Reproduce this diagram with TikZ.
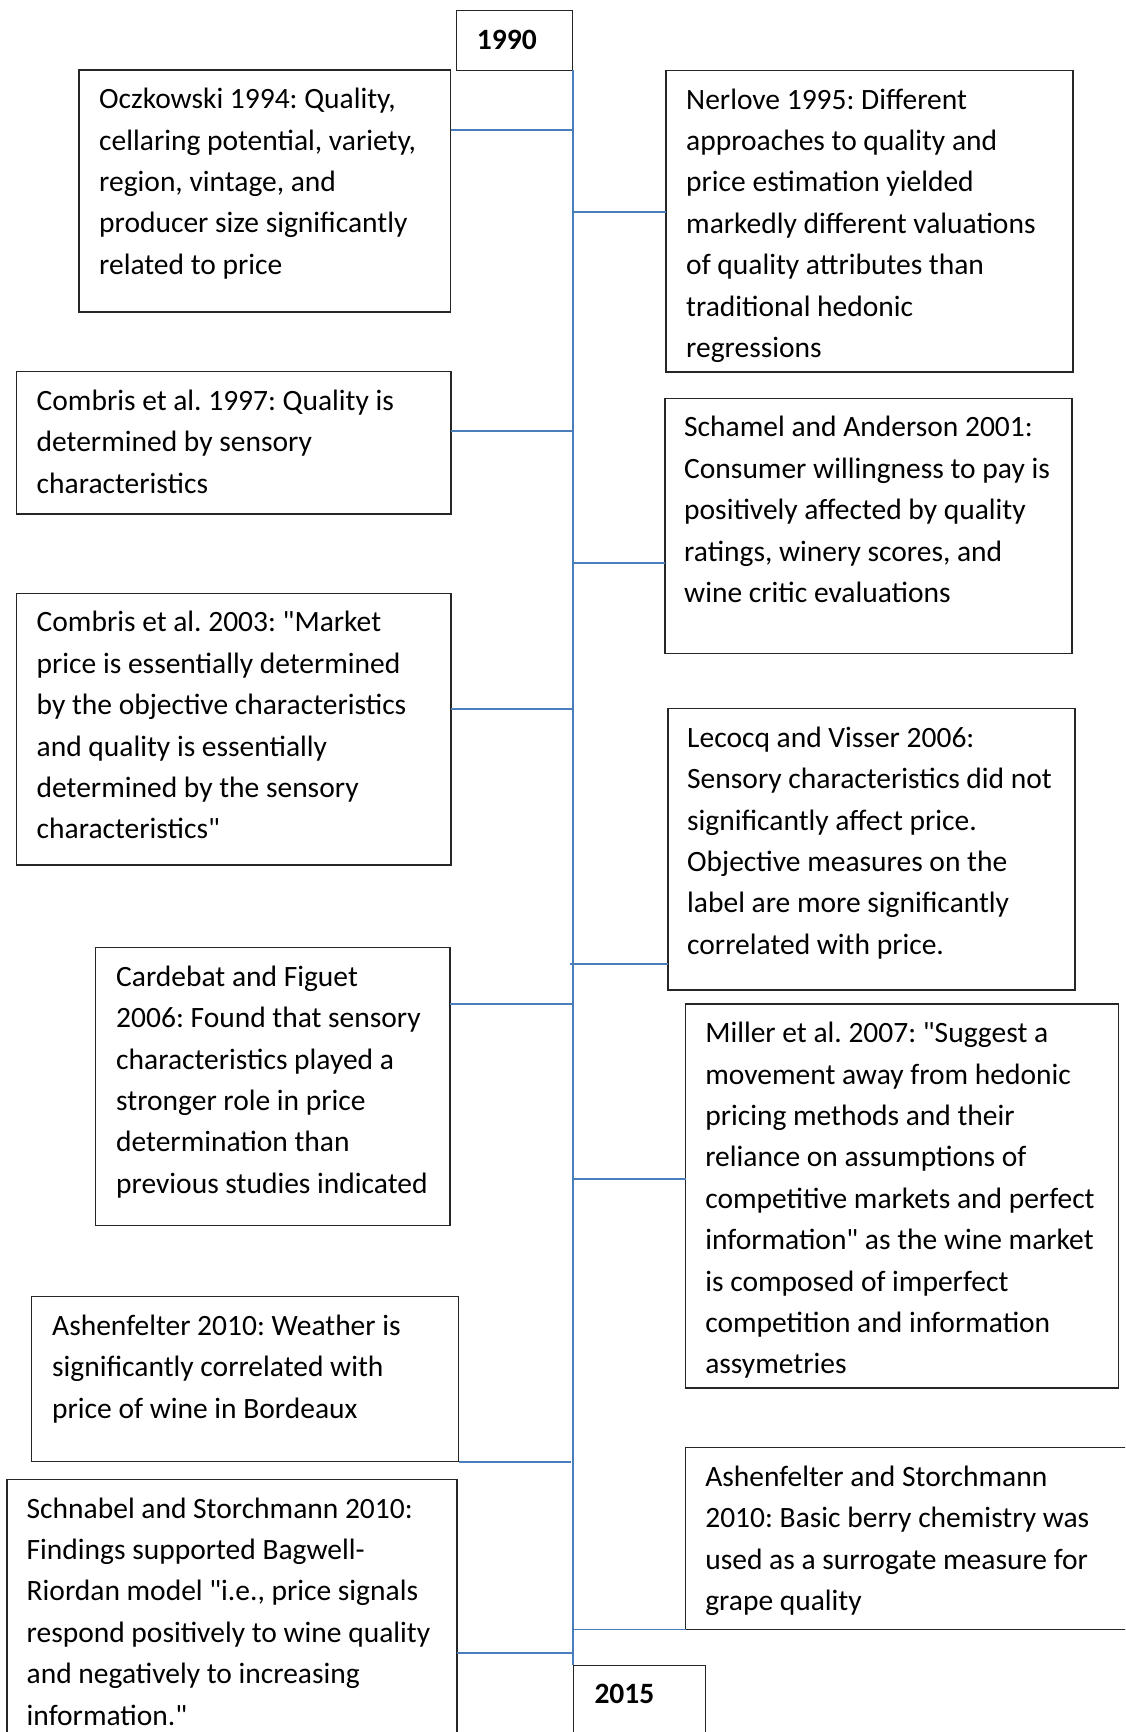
\documentclass[tikz,border=0pt]{standalone}
\usepackage{fontspec}
\setmainfont{Carlito}[Ligatures=TeXOff]
\definecolor{linkblue}{HTML}{4A7EBB}
\definecolor{boxline}{HTML}{262626}
\frenchspacing
\begin{document}
\frenchspacing
\begin{tikzpicture}[x=1pt,y=-1pt,
  box/.style={draw=boxline, line width=1.4pt, inner sep=0pt, outer sep=0pt, anchor=north west},
  txt/.style={inner sep=0pt, anchor=north west, align=left, font=\fontsize{29.5}{41.4}\selectfont},
  yrtxt/.style={txt, font=\fontsize{29.5}{41.4}\selectfont\bfseries},
  conn/.style={draw=linkblue, line width=1.8pt}]
\useasboundingbox (0,0) rectangle (1125,1732);
\clip (0,0) rectangle (1125,1732);

% year boxes
\node[box, minimum width=116pt, minimum height=59.6pt] (y1990) at (456.7,10.7) {};
\node[yrtxt] (t1990) at ([shift={(20,9.5)}]y1990.north west) {\strut 1990};
\node[box, minimum width=132.4pt, minimum height=100pt] (y2015) at (573.3,1665.3) {};
\node[yrtxt] (t2015) at ([shift={(21,9)}]y2015.north west) {\strut 2015};

% study boxes
\node[box, minimum width=371.5pt, minimum height=242pt] (oc) at (79,70) {};
\node[box, minimum width=407pt, minimum height=301.5pt] (ne) at (666,70.5) {};
\node[box, minimum width=434.5pt, minimum height=142.3pt] (c97) at (16.5,371.7) {};
\node[box, minimum width=407pt, minimum height=255pt] (sc) at (665,398.3) {};
\node[box, minimum width=434.5pt, minimum height=271.7pt] (c03) at (16.5,593.3) {};
\node[box, minimum width=407pt, minimum height=281.3pt] (le) at (668,708.7) {};
\node[box, minimum width=354.5pt, minimum height=278pt] (ca) at (95.5,947.7) {};
\node[box, minimum width=433pt, minimum height=384pt] (mi) at (685.6,1004) {};
\node[box, minimum width=427pt, minimum height=165pt] (a10) at (31.6,1296.7) {};
\node[box, minimum width=450pt, minimum height=300pt] (sn) at (7,1479.3) {};
\node[box, minimum width=460pt, minimum height=181.7pt] (as) at (685.6,1447.7) {};

% texts
\node[txt] (toc) at ([shift={(20,9.5)}]oc.north west) {\strut Oczkowski 1994: Quality,\\cellaring potential, variety,\\region, vintage, and\\producer size significantly\\related to price};
\node[txt] (tne) at ([shift={(20,9.5)}]ne.north west) {\strut Nerlove 1995: Different\\approaches to quality and\\price estimation yielded\\markedly different valuations\\of quality attributes than\\traditional hedonic\\regressions};
\node[txt] (tc97) at ([shift={(20,9.5)}]c97.north west) {\strut Combris et al. 1997: Quality is\\determined by sensory\\characteristics};
\node[txt] (tsc) at ([shift={(19,9.5)}]sc.north west) {\strut Schamel and Anderson 2001:\\Consumer willingness to pay is\\positively affected by quality\\ratings, winery scores, and\\wine critic evaluations};
\node[txt] (tc03) at ([shift={(20,9.5)}]c03.north west) {\strut Combris et al. 2003: "Market\\price is essentially determined\\by the objective characteristics\\and quality is essentially\\determined by the sensory\\characteristics"};
\node[txt] (tle) at ([shift={(19,9.5)}]le.north west) {\strut Lecocq and Visser 2006:\\Sensory characteristics did not\\significantly affect price.\\Objective measures on the\\label are more significantly\\correlated with price.};
\node[txt] (tca) at ([shift={(20.5,9.5)}]ca.north west) {\strut Cardebat and Figuet\\2006: Found that sensory\\characteristics played a\\stronger role in price\\determination than\\previous studies indicated};
\node[txt] (tmi) at ([shift={(19.5,9.5)}]mi.north west) {\strut Miller et al. 2007: "Suggest a\\movement away from hedonic\\pricing methods and their\\reliance on assumptions of\\competitive markets and perfect\\information" as the wine market\\is composed of imperfect\\competition and information\\assymetries};
\node[txt] (ta10) at ([shift={(20.4,9.5)}]a10.north west) {\strut Ashenfelter 2010: Weather is\\significantly correlated with\\price of wine in Bordeaux};
\node[txt] (tsn) at ([shift={(19.5,9.5)}]sn.north west) {\strut Schnabel and Storchmann 2010:\\Findings supported Bagwell-\\Riordan model "i.e., price signals\\respond positively to wine quality\\and negatively to increasing\\information."};
\node[txt] (tas) at ([shift={(19.5,9.5)}]as.north west) {\strut Ashenfelter and Storchmann\\2010: Basic berry chemistry was\\used as a surrogate measure for\\grape quality};

% spine
\coordinate (spb) at (y1990.south east |- y2015.north);
\draw[conn] (y1990.south east) -- (spb);

% junctions on the spine
\coordinate (j1) at (572.7,130);
\coordinate (j2) at (572.7,212);
\coordinate (j3) at (572.7,431);
\coordinate (j4) at (572.7,563.3);
\coordinate (j5) at (572.7,709.3);
\coordinate (j6) at (569.5,964);
\coordinate (j7) at (572.7,1004);
\coordinate (j8) at (572.7,1179.3);
\coordinate (j9) at (570.7,1461.7);
\coordinate (j10) at (572.7,1629.5);
\coordinate (j11) at (572.7,1652.7);

\draw[conn] (j1) -- (j1 -| oc.east);
\draw[conn] (j2) -- (j2 -| ne.west);
\draw[conn] (j3) -- (j3 -| c97.east);
\draw[conn] (j4) -- (j4 -| sc.west);
\draw[conn] (j5) -- (j5 -| c03.east);
\draw[conn] (j6) -- (j6 -| le.west);
\draw[conn] (j7) -- (j7 -| ca.east);
\draw[conn] (j8) -- (j8 -| mi.west);
\draw[conn] (j9) -- (j9 -| a10.east);
\draw[conn] (j10) -- (j10 -| as.west);
\draw[conn] (j11) -- (j11 -| sn.east);
\end{tikzpicture}
\end{document}
